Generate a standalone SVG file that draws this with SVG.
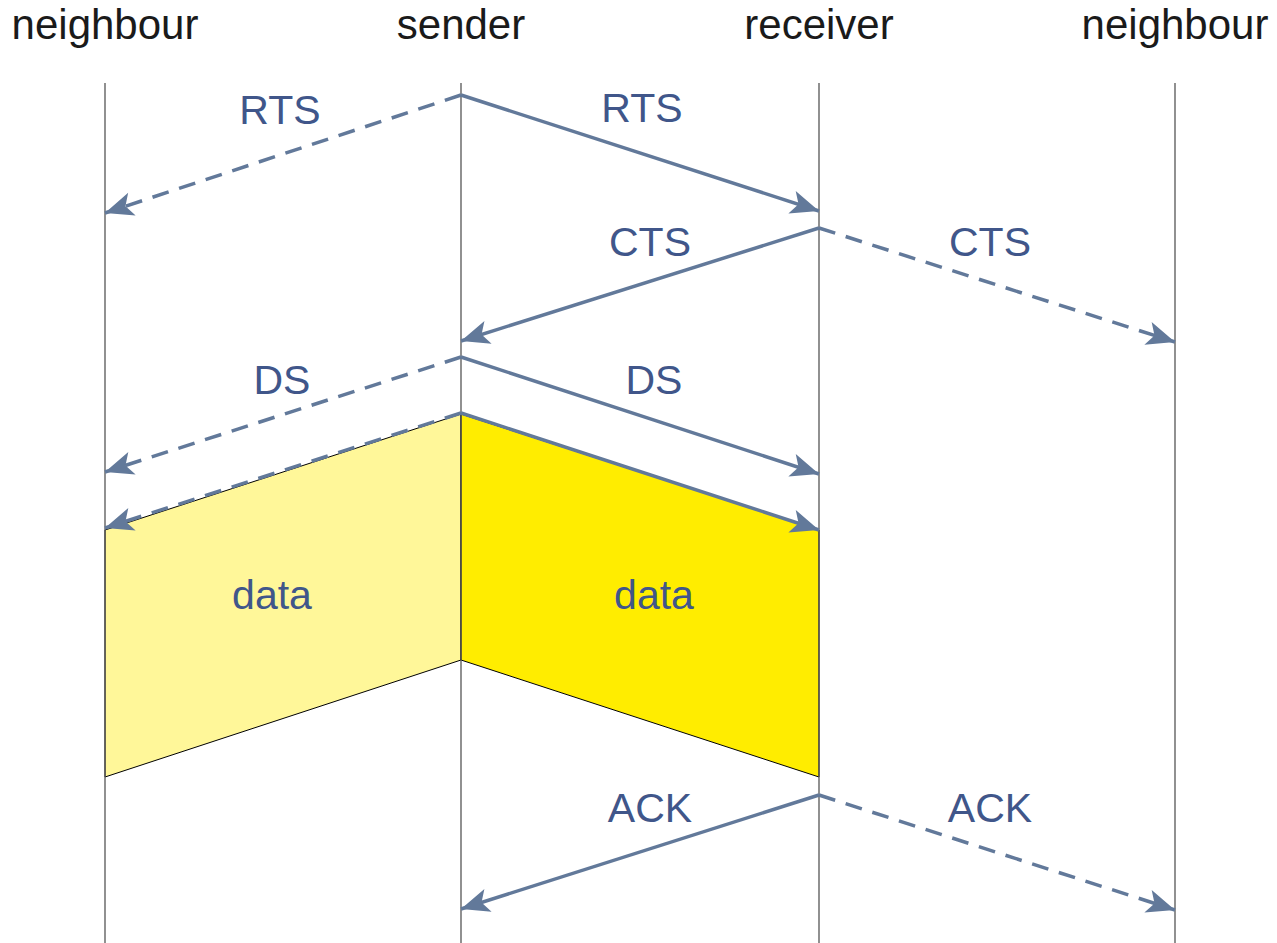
<svg xmlns="http://www.w3.org/2000/svg" width="1277" height="943" viewBox="0 0 1277 943">
<style>
.life{stroke:#555;stroke-width:1.3;fill:none}
.hdr{font-family:"Liberation Sans",Arial,sans-serif;font-size:42px;fill:#1a1a1a;text-anchor:middle}
.lbl{font-family:"Liberation Sans",Arial,sans-serif;font-size:41px;fill:#40568a;text-anchor:middle}
.msg{stroke:#62799a;stroke-width:3.5;fill:none;marker-end:url(#ah)}
.dash{stroke-dasharray:17 11}
.box{stroke:#000;stroke-width:1}
</style>
<defs>
<marker id="ah" markerUnits="userSpaceOnUse" markerWidth="34" markerHeight="30" viewBox="-28 -12 30 24" refX="0" refY="0" orient="auto">
<path d="M0,0 L-25,-10.5 L-19,0 L-25,10.5 Z" fill="#62799a"/>
</marker>
</defs>
<g id="data-neighbour"><polygon class="box" points="105,530 461,414 461,660 105,777" fill="#fff799"/><text class="lbl" x="272" y="609">data</text></g>
<g id="data-receiver"><polygon class="box" points="461,414 819,530 819,777 461,660" fill="#ffed00"/><text class="lbl" x="654" y="609">data</text></g>
<g id="lifelines">
<g id="neighbour-left"><text class="hdr" x="105" y="39">neighbour</text><line class="life" x1="105" y1="83" x2="105" y2="943"/></g>
<g id="sender"><text class="hdr" x="461" y="39">sender</text><line class="life" x1="461" y1="83" x2="461" y2="943"/></g>
<g id="receiver"><text class="hdr" x="819" y="39">receiver</text><line class="life" x1="819" y1="83" x2="819" y2="943"/></g>
<g id="neighbour-right"><text class="hdr" x="1175" y="39">neighbour</text><line class="life" x1="1175" y1="83" x2="1175" y2="943"/></g>
</g>
<g id="connectors">
<line class="msg dash" x1="461" y1="95" x2="105" y2="213"/>
<line class="msg" x1="461" y1="95" x2="819" y2="211"/>
<line class="msg" x1="819" y1="228" x2="461" y2="341"/>
<line class="msg dash" x1="819" y1="228" x2="1175" y2="342"/>
<line class="msg dash" x1="461" y1="357" x2="105" y2="472"/>
<line class="msg" x1="461" y1="357" x2="819" y2="474"/>
<line class="msg dash" x1="461" y1="413" x2="105" y2="528"/>
<line class="msg" x1="461" y1="413" x2="819" y2="530"/>
<line class="msg" x1="819" y1="795" x2="461" y2="909"/>
<line class="msg dash" x1="819" y1="795" x2="1175" y2="910"/>
</g>
<g id="labels">
<text class="lbl" x="280" y="124">RTS</text>
<text class="lbl" x="642" y="122">RTS</text>
<text class="lbl" x="650" y="256">CTS</text>
<text class="lbl" x="990" y="256">CTS</text>
<text class="lbl" x="282" y="394">DS</text>
<text class="lbl" x="654" y="394">DS</text>
<text class="lbl" x="650" y="822">ACK</text>
<text class="lbl" x="990" y="822">ACK</text>
</g>
</svg>
